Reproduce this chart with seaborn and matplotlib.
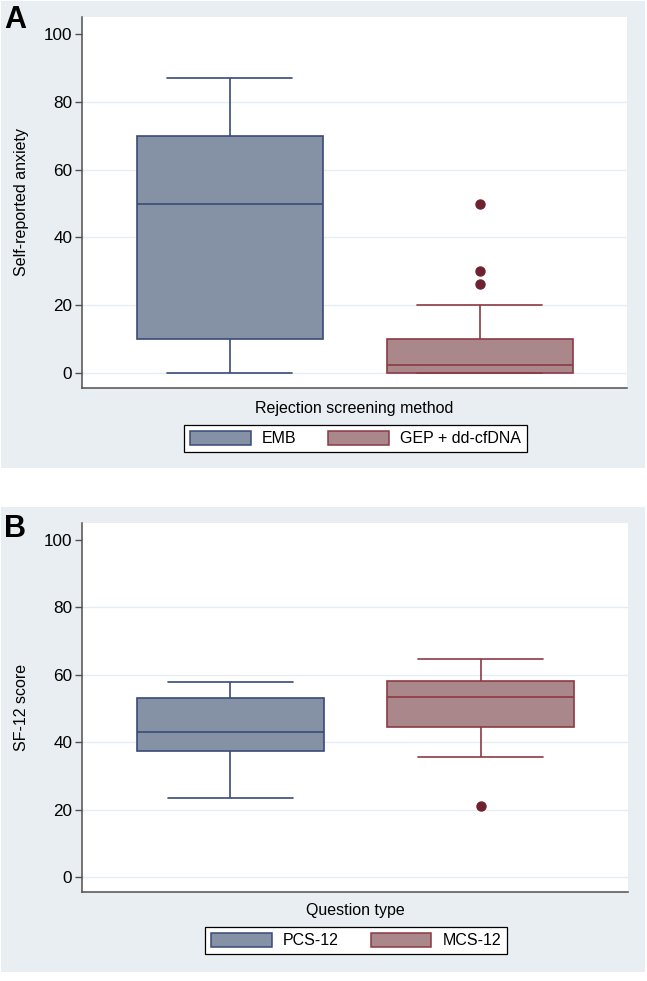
import numpy as np
import pandas as pd
import matplotlib
matplotlib.use('Agg')
import matplotlib.pyplot as plt
import seaborn as sns
from matplotlib.patches import Rectangle, Patch

# ==================== DATA ====================

# panel A: self-reported anxiety by rejection screening method
METHODS = ['EMB', 'GEP + dd-cfDNA']
anxiety_emb = [0, 5, 10, 10, 30, 50, 60, 70, 70, 80, 87]
anxiety_gep = [0, 0, 0, 0, 0, 0, 0, 0, 2.5, 5, 7.5, 10, 10, 20, 26.25, 30, 50]

# panel B: SF-12 score by question type
QUESTIONS = ['PCS-12', 'MCS-12']
sf12_pcs = [23.5, 30, 37.5, 40, 43, 50, 53, 55, 58]
sf12_mcs = [21, 35.7, 44.6, 50, 53.4, 56, 58.1, 62, 64.6]

YTICKS = [0, 20, 40, 60, 80, 100]

# ==================== STYLE ====================

FILLS = ['#8592a6', '#a9878b']
EDGES = ['#3b4a78', '#8c3a44']
FLIER = '#6e2230'
PANEL_BG = '#e8eef1'
GRID_C = '#e4edf1'
AXIS_C = '#505050'

sns.set_theme(style='white')
plt.rcParams['font.family'] = ['Liberation Sans', 'DejaVu Sans']
plt.rcParams['text.color'] = 'black'
plt.rcParams['axes.labelcolor'] = 'black'
plt.rcParams['ytick.color'] = 'black'

W, H = 647, 981
fig = plt.figure(figsize=(W / 100, H / 100), dpi=100)
fig.patch.set_facecolor('white')


def fx(px):
    return px / W


def fy(py):
    return 1 - py / H


def panel(top, bottom, ax_box, groups, series, ylabel, xlabel, letter,
          letter_y, xlabel_y, legend_xy):
    # light background of the whole panel
    fig.patches.append(Rectangle((fx(1), fy(bottom)), fx(644), (bottom - top) / H,
                                 transform=fig.transFigure, facecolor=PANEL_BG,
                                 edgecolor='none', zorder=-5))
    l, t, r, b = ax_box
    ax = fig.add_axes([fx(l), fy(b), fx(r - l), (b - t) / H])
    ax.set_facecolor('white')

    for i, (name, vals) in enumerate(zip(groups, series)):
        df = pd.DataFrame({'group': name, 'value': vals})
        sns.boxplot(
            data=df, x='group', y='value', order=groups,
            color=FILLS[i], linecolor=EDGES[i], linewidth=1.2,
            width=0.745, saturation=1, whis=1.5, capwidths=0.5,
            flierprops=dict(marker='o', markerfacecolor=FLIER,
                            markeredgecolor=FLIER, markersize=6.5),
            ax=ax
        )

    ax.hlines(YTICKS[:-1], -1, 2, color=GRID_C, lw=1, zorder=0.5)
    ax.set_xlim(-0.592, 1.588)
    ax.set_ylim(-4.4, 105)
    ax.set_yticks(YTICKS)
    ax.tick_params(axis='y', length=5, width=1, color=AXIS_C,
                   labelsize=12.3, pad=2, left=True, labelcolor='black')
    ax.tick_params(axis='x', length=0, labelbottom=False)
    for side in ['top', 'right']:
        ax.spines[side].set_visible(False)
    for side in ['left', 'bottom']:
        ax.spines[side].set_color(AXIS_C)
        ax.spines[side].set_linewidth(1.1)

    ax.set_xlabel('')
    ax.set_ylabel(ylabel, fontsize=11.5)
    ax.yaxis.set_label_coords((29 - l) / (r - l), 0.5)
    fig.text(fx((l + r) / 2), fy(xlabel_y), xlabel, ha='center', va='center',
             fontsize=11.5)
    fig.text(fx(4), fy(letter_y), letter, ha='left', va='center',
             fontsize=22, fontweight='bold')

    handles = [Patch(facecolor=FILLS[i], edgecolor=EDGES[i], lw=1.1, label=g)
               for i, g in enumerate(groups)]
    leg = ax.legend(
        handles=handles, loc='center',
        bbox_to_anchor=(fx(legend_xy[0]), fy(legend_xy[1])),
        bbox_transform=fig.transFigure, ncol=2, frameon=True,
        fancybox=False, edgecolor='black', framealpha=1,
        handlelength=3.8, handleheight=0.95, handletextpad=0.7,
        columnspacing=2.0, fontsize=11.5, borderpad=0.35, borderaxespad=0
    )
    leg.get_frame().set_linewidth(0.9)
    return ax


panel(1, 468, (82, 17, 627, 388), METHODS, [anxiety_emb, anxiety_gep],
      'Self-reported anxiety', 'Rejection screening method', 'A',
      20, 408, (355.5, 438.5))

panel(507, 972, (82, 523, 628, 892), QUESTIONS, [sf12_pcs, sf12_mcs],
      'SF-12 score', 'Question type', 'B',
      529, 911, (356, 940.5))

fig.savefig('out.png', dpi=100)
